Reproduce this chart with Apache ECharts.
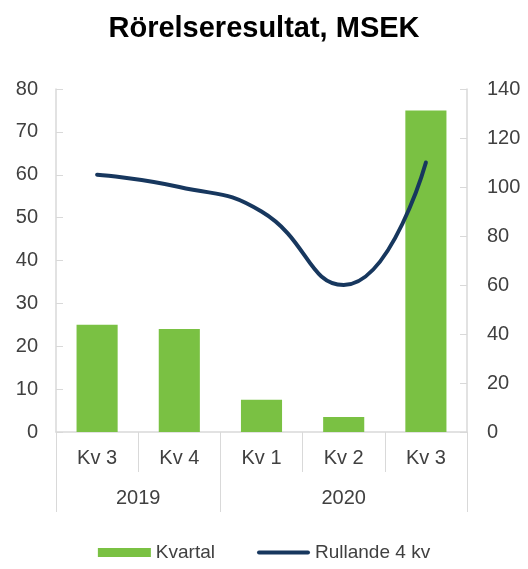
<!DOCTYPE html>
<html>
<head>
<meta charset="utf-8">
<script src="https://cdn.jsdelivr.net/npm/echarts@6/dist/echarts.min.js"></script>
<style>
  html, body { margin: 0; padding: 0; background: #fff; }
  #chart { width: 528px; height: 569px; }
</style>
</head>
<body>
<div id="chart"></div>
<script>
// Kvartal (vänster axel) och rullande 4 kv (höger axel), MSEK
const quarters = ['Kv 3', 'Kv 4', 'Kv 1', 'Kv 2', 'Kv 3'];
const years = ['2019', '2020'];
const yearCenters = [1, 3.5];      // mitten av respektive årsgrupp (i kategorienheter)
const yearBounds = [0, 2, 5];      // gränser mellan årsgrupperna
const kvartal = [25, 24, 7.5, 3.5, 75];
const rullande = [105, 100, 90, 60, 110];

const textColor = '#404040';
const gridColor = '#d9d9d9';
const font = 'Liberation Sans, Arial, sans-serif';

const chart = echarts.init(document.getElementById('chart'));

const option = {
  animation: false,
  title: {
    text: 'Rörelseresultat, MSEK',
    left: 'center',
    top: 9,
    textStyle: { fontFamily: font, fontSize: 29, fontWeight: 'bold', color: '#000' },
  },
  legend: {
    bottom: 2,
    left: 'center',
    itemWidth: 53,
    itemHeight: 9,
    itemGap: 42,
    textStyle: { fontFamily: font, fontSize: 19, color: textColor },
    data: [
      { name: 'Kvartal', icon: 'rect' },
      { name: 'Rullande 4 kv', icon: 'path://M2,0 L51,0 A2,2 0 0 1 51,4 L2,4 A2,2 0 0 1 2,0 Z' },
    ],
  },
  grid: { left: 56, right: 61, top: 89, bottom: 137 },
  xAxis: [
    {
      type: 'category',
      data: quarters,
      boundaryGap: true,
      axisLine: { lineStyle: { color: gridColor, width: 1.5 } },
      axisTick: { show: true, interval: 0, length: 40, lineStyle: { color: gridColor } },
      axisLabel: { fontFamily: font, fontSize: 20, color: textColor, margin: 16, interval: 0 },
      splitLine: { show: false },
    },
    {
      type: 'value',
      position: 'bottom',
      min: 0,
      max: 5,
      axisLine: { show: false },
      axisTick: {
        show: true,
        length: 80,
        customValues: yearBounds,
        lineStyle: { color: gridColor },
      },
      axisLabel: {
        fontFamily: font,
        fontSize: 20,
        color: textColor,
        margin: 56,
        customValues: yearCenters,
        formatter: (v) => years[yearCenters.indexOf(v)] || '',
      },
      splitLine: { show: false },
    },
  ],
  yAxis: [
    {
      type: 'value',
      min: 0,
      max: 80,
      interval: 10,
      axisLine: { show: true, lineStyle: { color: gridColor, width: 1.5 } },
      axisTick: { show: true, inside: true, length: 7, lineStyle: { color: gridColor } },
      axisLabel: { fontFamily: font, fontSize: 20, color: textColor, margin: 18 },
      splitLine: { show: false },
    },
    {
      type: 'value',
      min: 0,
      max: 140,
      interval: 20,
      position: 'right',
      axisLine: { show: true, lineStyle: { color: gridColor, width: 1.5 } },
      axisTick: { show: true, inside: true, length: 7, lineStyle: { color: gridColor } },
      axisLabel: { fontFamily: font, fontSize: 20, color: textColor, margin: 20 },
      splitLine: { show: false },
    },
  ],
  series: [
    {
      name: 'Kvartal',
      type: 'bar',
      data: kvartal,
      xAxisIndex: 0,
      yAxisIndex: 0,
      barWidth: '50%',
      itemStyle: { color: '#7ac143' },
    },
    {
      name: 'Rullande 4 kv',
      type: 'line',
      data: rullande,
      xAxisIndex: 0,
      yAxisIndex: 1,
      smooth: 0.5,
      symbol: 'none',
      lineStyle: { color: '#17375e', width: 4, cap: 'round' },
      itemStyle: { color: '#17375e' },
    },
  ],
};

chart.setOption(option);
</script>
</body>
</html>
